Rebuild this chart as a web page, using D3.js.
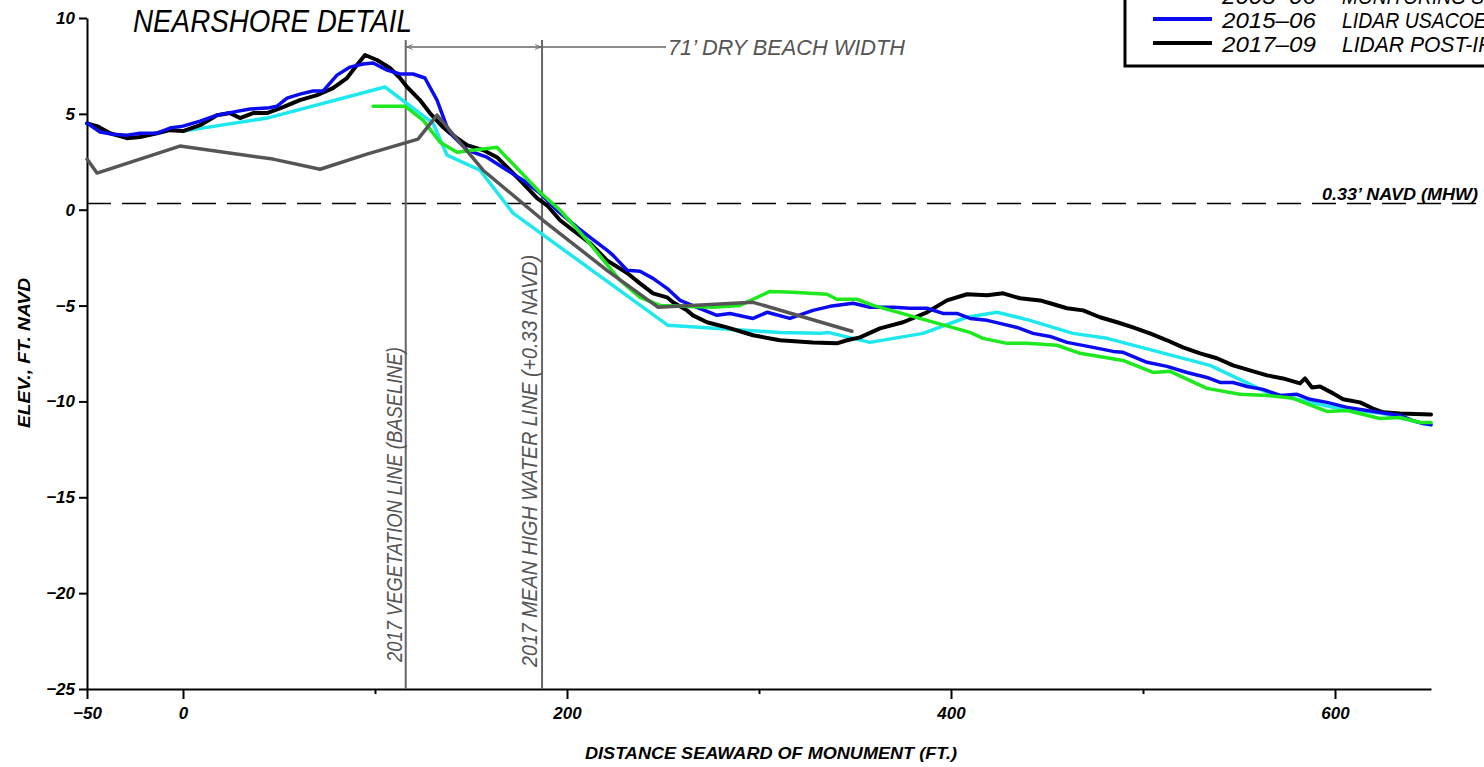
<!DOCTYPE html>
<meta charset="utf-8">
<title>Nearshore Detail</title>
<style>
  body { margin: 0; background: #fff; }
  text { font-family: "Liberation Sans", Arial, sans-serif; font-style: italic; }
  .tick text { font-weight: bold; font-size: 17px; }
  .profile { fill: none; stroke-linejoin: round; stroke-linecap: round; }
</style>
<body></body>
<script src="https://d3js.org/d3.v7.min.js"></script>
<script>
const width = 1484, height = 767;

// profiles: [distance seaward of monument (ft), elevation (ft NAVD)]
const profileCyan = [[0,4.10],[43.8,4.78],[105.2,6.40],[130.2,4.52],[137.5,2.85],[154.7,2.06],[171.9,-0.18],
  [252.6,-6.03],[310.9,-6.40],[331.8,-6.45],[335.9,-6.40],[357.8,-6.92],[385.4,-6.45],[408.3,-5.61],[424,-5.35],
  [441.1,-5.77],[463.5,-6.45],[481.3,-6.71],[534.9,-8.12],[564.6,-9.53],[599,-10.31],[625,-10.63],[650,-11.25]];

const profileGreen = [[99,5.40],[115.6,5.40],[125,4.67],[133.9,3.52],[142.7,3.00],[163.5,3.26],[185.9,0.91],
  [196.4,-0.03],[210.4,-1.59],[227.6,-3.68],[238,-4.57],[248.4,-4.99],[276,-5.09],[290.1,-4.99],[305.7,-4.26],
  [317.7,-4.31],[335.4,-4.41],[340.6,-4.67],[351,-4.67],[359.4,-4.99],[387.5,-5.77],[409.9,-6.40],[416.7,-6.71],
  [429.2,-6.97],[439.6,-6.97],[455.2,-7.07],[467.2,-7.49],[489.6,-7.86],[505.2,-8.49],[514.1,-8.43],[533.3,-9.32],
  [550.5,-9.63],[564.6,-9.69],[578.1,-9.84],[595.8,-10.52],[606.3,-10.47],[623.4,-10.89],[633.9,-10.84],
  [644.3,-11.10],[650,-11.10]];

const profileGray = [[-50,2.64],[-44.8,1.91],[-1.6,3.32],[46.9,2.64],[71.4,2.11],[95.8,2.90],[122.4,3.68],
  [132.3,4.93],[156.3,2.06],[187.5,-0.55],[220.8,-3.16],[247.5,-5.09],[296.9,-4.83],[348.4,-6.34]];

const lidar2015 = [[-50,4.52],[-43.2,4.05],[-36.5,3.94],[-29.2,3.89],[-22.4,3.99],[-13.5,3.99],[-6.8,4.26],
  [0,4.36],[8.9,4.62],[17.7,4.93],[26,5.09],[34.9,5.25],[43.8,5.30],[49,5.40],[54.2,5.82],[60.9,6.03],
  [67.7,6.19],[72.9,6.19],[80.2,7.02],[87,7.44],[93.8,7.60],[99,7.65],[106.3,7.28],[113,7.08],[119.8,7.08],
  [126,6.87],[132.3,5.72],[137.5,4.31],[140.6,3.84],[147.9,3.11],[158.3,2.74],[168.8,2.06],[177.1,1.54],
  [185.9,0.86],[194.8,-0.03],[205.2,-0.91],[212,-1.44],[220.8,-2.11],[224,-2.38],[231.3,-3.16],[238,-3.21],
  [244.8,-3.58],[252.1,-4.10],[258.9,-4.73],[267.7,-5.09],[278.1,-5.51],[284.9,-5.41],[296.9,-5.67],
  [304.2,-5.35],[316.1,-5.67],[328.1,-5.25],[337,-5.04],[349,-4.88],[357.8,-5.09],[369.8,-5.09],[378.6,-5.14],
  [387.5,-5.14],[395.8,-5.41],[403.1,-5.41],[409.9,-5.67],[418.8,-5.77],[425.5,-5.93],[434.4,-6.14],
  [442.7,-6.45],[451.6,-6.61],[460.4,-6.92],[474,-7.18],[484.4,-7.39],[489.6,-7.44],[502.1,-7.96],
  [512.5,-8.17],[522.9,-8.49],[533.3,-8.75],[540.1,-9.01],[546.9,-9.01],[554.2,-9.22],[562.5,-9.37],
  [571.4,-9.69],[580.2,-9.63],[587,-9.89],[595.8,-10.05],[606.3,-10.31],[616.7,-10.47],[627.1,-10.63],
  [633.9,-10.73],[640.6,-11.00],[645.8,-11.15],[650,-11.20]];

const lidar2017 = [[-50,4.50],[-44.8,4.36],[-38,3.99],[-29.2,3.73],[-22.4,3.79],[-13.5,3.99],[-6.8,4.15],
  [0,4.10],[8.9,4.41],[17.7,4.93],[24.5,5.04],[29.7,4.78],[36.5,5.04],[43.8,5.04],[52.1,5.35],[60.9,5.72],
  [69.8,5.98],[78.1,6.34],[85.4,6.87],[90.6,7.55],[94.8,8.07],[101,7.81],[107.8,7.39],[113,6.87],[116.7,6.40],
  [123.4,5.72],[128.6,5.04],[135.4,4.31],[139.1,3.99],[147.9,3.37],[156.3,3.11],[163.5,2.74],[168.8,2.22],
  [177.1,1.38],[184.4,0.60],[189.6,0.23],[196.4,-0.55],[203.1,-1.07],[212,-1.75],[220.8,-2.64],[231.3,-3.30],
  [238,-3.84],[244.8,-4.36],[252.1,-4.57],[255.2,-4.83],[262.5,-5.25],[265.6,-5.51],[272.9,-5.87],
  [283.3,-6.14],[296.9,-6.55],[310.9,-6.81],[328.1,-6.92],[340.6,-6.97],[345.8,-6.81],[352.6,-6.66],
  [363,-6.19],[375,-5.87],[387.5,-5.35],[397.9,-4.73],[408.3,-4.41],[418.8,-4.46],[427.1,-4.36],[435.9,-4.62],
  [446.4,-4.73],[451.6,-4.88],[460.4,-5.14],[468.8,-5.25],[477.6,-5.61],[486.5,-5.87],[494.8,-6.14],
  [503.6,-6.45],[512.5,-6.81],[520.8,-7.18],[529.7,-7.49],[538.5,-7.75],[546.9,-8.12],[555.7,-8.38],
  [564.6,-8.64],[572.9,-8.80],[581.8,-9.06],[584.4,-8.80],[588,-9.27],[592.2,-9.22],[599,-9.58],[604.2,-9.89],
  [613,-10.05],[619.8,-10.37],[625,-10.57],[633.9,-10.63],[650,-10.68]];

const xTicks = [-50, 0, 100, 200, 300, 400, 500, 600];
const xLabeled = [-50, 0, 200, 400, 600];
const yTicks = [10, 5, 0, -5, -10, -15, -20, -25];

const mhwElev = 0.33;
const vegDist = 116, mhwDist = 187;

const legendYears = ["2005-06", "2015-06", "2017-09"];
const legendNames = ["MONITORING SURVEY", "LIDAR USACOE NCMP", "LIDAR POST-IRMA"];
const legendColors = ["#1ee8ee", "#0b0bf0", "#000"];

const x = d3.scaleLinear().domain([-50, 650]).range([87, 1431]);
const y = d3.scaleLinear().domain([-25, 10]).range([689, 18]);

const svg = d3.select("body").append("svg")
    .attr("width", width).attr("height", height);

// axes
const yAxis = svg.append("g")
    .attr("transform", `translate(${x(-50)},0)`)
    .call(d3.axisLeft(y).tickValues(yTicks).tickSize(8).tickSizeOuter(0).tickPadding(4));
yAxis.selectAll("line, path").attr("stroke", "#000").attr("stroke-width", 2);

const xAxis = svg.append("g")
    .attr("transform", `translate(0,${y(-25)})`)
    .call(d3.axisBottom(x).tickValues(xTicks).tickSize(10).tickSizeOuter(0).tickPadding(8)
        .tickFormat(d => xLabeled.includes(d) ? d3.format("")(d).replace("-", "\u2212") : ""));
xAxis.selectAll("line, path").attr("stroke", "#000").attr("stroke-width", 2);
xAxis.selectAll(".tick line").filter(d => !xLabeled.includes(d)).attr("y2", 5);
svg.selectAll(".tick text").attr("fill", "#000");

// MHW dashed line
svg.append("line")
    .attr("x1", x(-50)).attr("x2", width)
    .attr("y1", y(mhwElev)).attr("y2", y(mhwElev))
    .attr("stroke", "#000").attr("stroke-width", 1.5).attr("stroke-dasharray", "24,11");

svg.append("text")
    .attr("x", 1322).attr("y", y(mhwElev) - 3)
    .attr("font-size", 16).attr("font-weight", "bold")
    .attr("textLength", 156).attr("lengthAdjust", "spacingAndGlyphs")
    .text("0.33\u2019 NAVD (MHW)");

// vegetation line / MHW line
const gray = "#666";
[vegDist, mhwDist].forEach(d => {
  svg.append("line")
      .attr("x1", x(d)).attr("x2", x(d)).attr("y1", 40).attr("y2", y(-25))
      .attr("stroke", gray).attr("stroke-width", 2);
});

svg.append("defs").append("marker")
    .attr("id", "arr").attr("viewBox", "0 0 10 10").attr("refX", 10).attr("refY", 5)
    .attr("markerWidth", 9).attr("markerHeight", 6).attr("markerUnits", "userSpaceOnUse")
    .attr("orient", "auto-start-reverse")
  .append("path").attr("d", "M0,1L10,5L0,9").attr("fill", "none").attr("stroke", gray).attr("stroke-width", 1.5);

svg.append("line")
    .attr("x1", x(vegDist) + 1).attr("x2", x(mhwDist) - 1).attr("y1", 47).attr("y2", 47)
    .attr("stroke", gray).attr("stroke-width", 1.5)
    .attr("marker-start", "url(#arr)").attr("marker-end", "url(#arr)");
svg.append("line")
    .attr("x1", x(mhwDist)).attr("x2", 666).attr("y1", 47).attr("y2", 47)
    .attr("stroke", gray).attr("stroke-width", 1.5);
svg.append("text")
    .attr("x", 668).attr("y", 55).attr("fill", "#555").attr("font-size", 22)
    .attr("textLength", 237).attr("lengthAdjust", "spacingAndGlyphs")
    .text(`${mhwDist - vegDist}\u2019 DRY BEACH WIDTH`);

svg.append("text")
    .attr("transform", `translate(${x(vegDist) - 4},662) rotate(-90)`)
    .attr("fill", "#555").attr("font-size", 22)
    .attr("textLength", 315).attr("lengthAdjust", "spacingAndGlyphs")
    .text("2017 VEGETATION LINE (BASELINE)");
svg.append("text")
    .attr("transform", `translate(${x(mhwDist) - 5},667) rotate(-90)`)
    .attr("fill", "#555").attr("font-size", 22)
    .attr("textLength", 412).attr("lengthAdjust", "spacingAndGlyphs")
    .text("2017 MEAN HIGH WATER LINE (+0.33 NAVD)");

// profiles
const line = d3.line().x(d => x(d[0])).y(d => y(d[1]));
const series = [
  {data: profileCyan, color: "#1ee8ee", w: 3.5},
  {data: lidar2017, color: "#000", w: 4},
  {data: lidar2015, color: "#0b0bf0", w: 3.5},
  {data: profileGreen, color: "#1ee81e", w: 3.5},
  {data: profileGray, color: "#555", w: 3.5}
];
svg.append("g").selectAll("path")
    .data(series)
    .join("path")
    .attr("class", "profile")
    .attr("d", d => line(d.data))
    .attr("stroke", d => d.color)
    .attr("stroke-width", d => d.w);

// titles
svg.append("text")
    .attr("x", 133).attr("y", 32).attr("font-size", 31)
    .attr("textLength", 279).attr("lengthAdjust", "spacingAndGlyphs")
    .text("NEARSHORE DETAIL");

svg.append("text")
    .attr("x", 585).attr("y", 759).attr("font-size", 17).attr("font-weight", "bold")
    .attr("textLength", 372).attr("lengthAdjust", "spacingAndGlyphs")
    .text("DISTANCE SEAWARD OF MONUMENT (FT.)");

svg.append("text")
    .attr("transform", "translate(30,428) rotate(-90)")
    .attr("font-size", 17).attr("font-weight", "bold")
    .attr("textLength", 150).attr("lengthAdjust", "spacingAndGlyphs")
    .text("ELEV., FT. NAVD");

// legend (top and right cut off by page edge, as in the drawing)
const legend = svg.append("g").attr("transform", "translate(1125,66)");
legend.append("rect")
    .attr("x", 0).attr("y", -200).attr("width", 500).attr("height", 200)
    .attr("fill", "#fff").attr("stroke", "#000").attr("stroke-width", 3);
const rows = legend.selectAll("g.row")
    .data(legendYears.map((yr, i) => ({yr, name: legendNames[i], color: legendColors[i]})))
    .join("g")
    .attr("transform", (d, i) => `translate(0,${-71 + i * 24})`);
rows.append("line")
    .attr("x1", 28).attr("x2", 87).attr("y1", 0).attr("y2", 0)
    .attr("stroke", d => d.color).attr("stroke-width", 4);
rows.append("text")
    .attr("x", 97).attr("y", 9).attr("font-size", 22)
    .attr("textLength", d => d.yr.length * 13.4).attr("lengthAdjust", "spacingAndGlyphs")
    .text(d => d.yr.replace("-", "\u2013"));
rows.append("text")
    .attr("x", 217).attr("y", 9).attr("font-size", 22)
    .attr("textLength", d => d.name.length * 12.2).attr("lengthAdjust", "spacingAndGlyphs")
    .text(d => d.name);
</script>
